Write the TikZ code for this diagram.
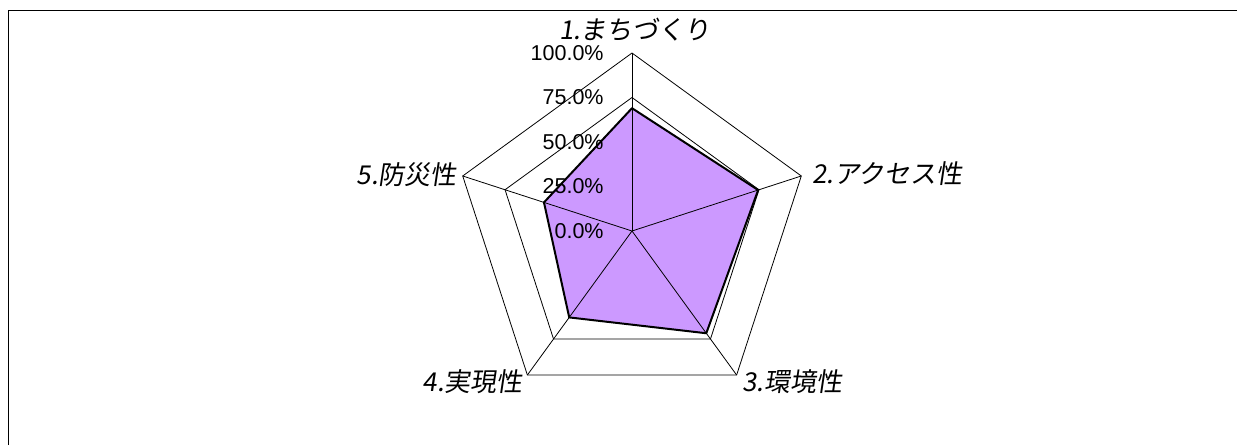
\documentclass[tikz,border=0pt]{standalone}
\usepackage{fontspec}
\setmainfont{Liberation Sans}
\newfontfamily\jp[FakeSlant=0.15]{Noto Sans CJK JP}
\usetikzlibrary{calc}
\definecolor{lavender}{HTML}{CC99FF}

\begin{document}
\begin{tikzpicture}[x=0.5pt,y=-0.5pt,
    grid/.style={black,line width=0.4pt},
    axislabel/.style={font=\jp\fontsize{13}{15}\selectfont,inner sep=0pt},
    ticklabel/.style={font=\fontsize{10.75}{12}\selectfont,inner sep=0pt,anchor=east}]
    \useasboundingbox (0,0) rectangle (1237,445);

    % Frame
    \draw[grid] (8,445) -- (8,10) -- (1237,10);

    % Axes
    \begin{scope}[shift={(632,231)}]
        \coordinate (c) at (0,0);
        \foreach \i in {1,...,5}
            \coordinate (v\i) at ({72*(\i-1)-90}:178);
    \end{scope}

    % Rings
    \foreach \f in {0.25,0.5,0.75,1}
        \draw[grid] ($(c)!\f!(v1)$) -- ($(c)!\f!(v2)$) -- ($(c)!\f!(v3)$)
            -- ($(c)!\f!(v4)$) -- ($(c)!\f!(v5)$) -- cycle;

    % Data
    \foreach \i/\val in {1/0.69,2/0.745,3/0.71,4/0.60,5/0.52}
        \coordinate (d\i) at ($(c)!\val!(v\i)$);
    \fill[lavender] (d1) -- (d2) -- (d3) -- (d4) -- (d5) -- cycle;

    % Spokes
    \foreach \i in {1,...,5}
        \draw[grid] (c) -- (v\i);

    \draw[line width=1pt,line join=round] (d1) -- (d2) -- (d3) -- (d4) -- (d5) -- cycle;

    % Tick labels
    \foreach \k/\t in {0/0.0,1/25.0,2/50.0,3/75.0,4/100.0}
        \node[ticklabel] (tick\k) at (604,{231-44.5*\k}) {\t\%};

    % Category labels
    \node[axislabel] (lab1) at (635,30) {1.まちづくり};
    \node[axislabel,anchor=west] (lab2) at (812,174) {2.アクセス性};
    \node[axislabel,anchor=west] (lab3) at (742,382) {3.環境性};
    \node[axislabel,anchor=east] (lab4) at (523,382) {4.実現性};
    \node[axislabel,anchor=east] (lab5) at (457,175) {5.防災性};
\end{tikzpicture}
\end{document}
